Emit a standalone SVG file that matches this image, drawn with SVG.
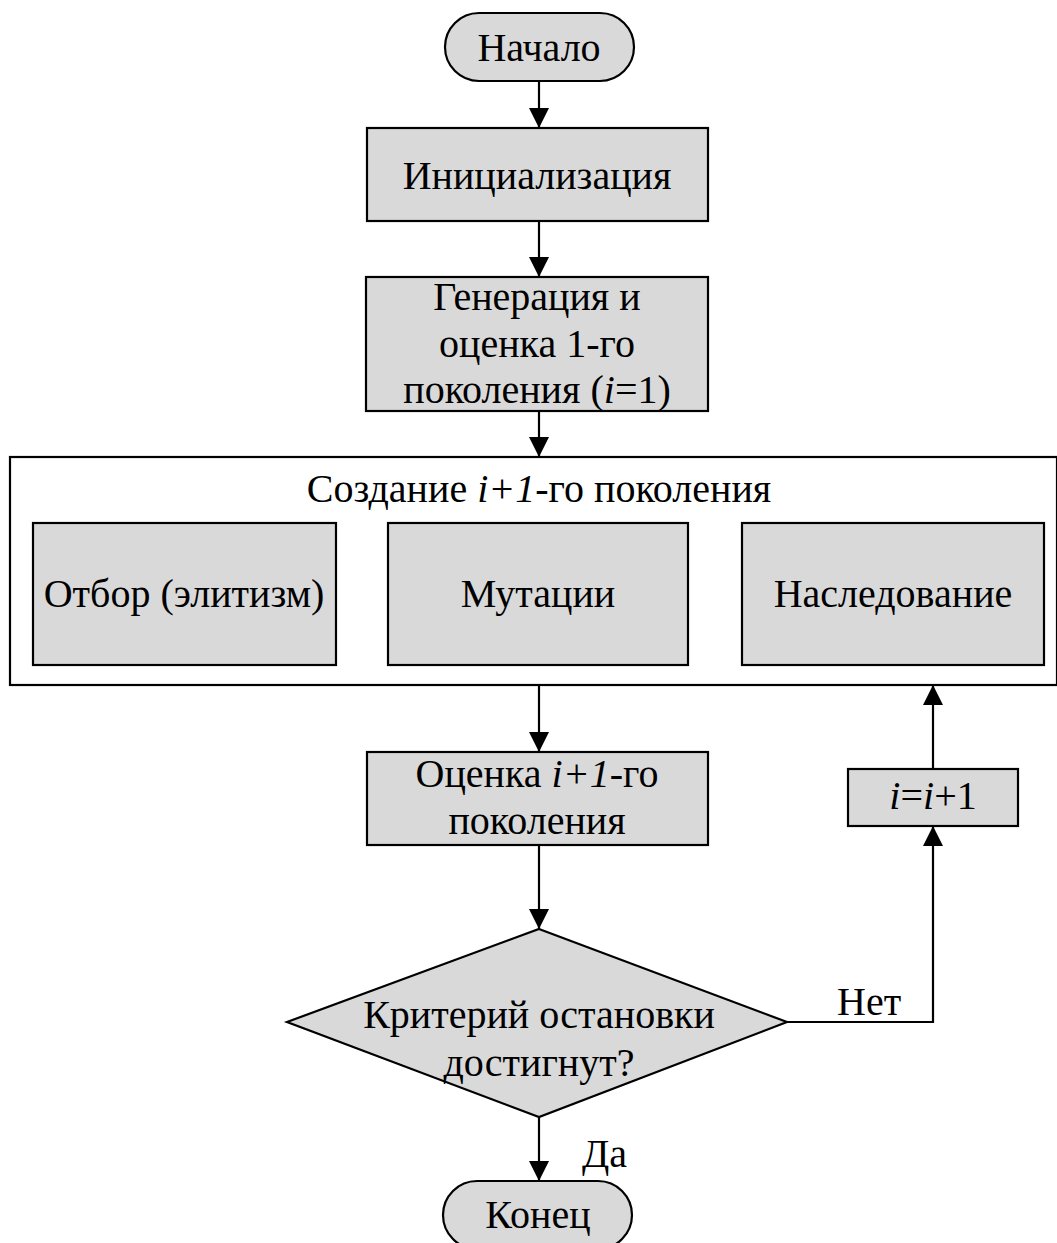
<svg xmlns="http://www.w3.org/2000/svg" width="1057" height="1243" viewBox="0 0 1057 1243">
<style>
.box{fill:#d9d9d9;stroke:#000;stroke-width:2.2}
.frame{fill:#fff;stroke:#000;stroke-width:2.2}
.t{font-family:"Liberation Serif","Times New Roman","DejaVu Serif",serif;font-size:40px;fill:#000;text-anchor:middle}
.lbl{font-family:"Liberation Serif","Times New Roman","DejaVu Serif",serif;font-size:40px;fill:#000}
.c{fill:none;stroke:#000;stroke-width:2.2}
</style>
<defs>
<marker id="ah" markerUnits="userSpaceOnUse" markerWidth="20" markerHeight="20" viewBox="0 0 20 20" refX="20" refY="10" orient="auto">
<path d="M0,0 L20,10 L0,20 Z" fill="#000"/>
</marker>
</defs>
<rect width="1057" height="1243" fill="#fff"/>
<g id="start"><rect class="box" x="445" y="13" width="189" height="68" rx="34"/><text class="t" x="539" y="61">Начало</text></g>
<g id="init"><rect class="box" x="367" y="128" width="341" height="93"/><text class="t" x="537" y="189">Инициализация</text></g>
<g id="gen"><rect class="box" x="366" y="277" width="342" height="134"/>
<text class="t" x="537" y="310">Генерация и</text>
<text class="t" x="537" y="357">оценка 1-го</text>
<text class="t" x="537" y="403">поколения (<tspan font-style="italic">i</tspan>=1)</text></g>
<g id="create"><rect class="frame" x="10" y="457" width="1047" height="228"/>
<text class="t" x="539" y="502">Создание <tspan font-style="italic">i+1</tspan>-го поколения</text></g>
<g id="select"><rect class="box" x="33" y="523" width="303" height="142"/><text class="t" x="184" y="607">Отбор (элитизм)</text></g>
<g id="mut"><rect class="box" x="388" y="523" width="300" height="142"/><text class="t" x="538" y="607">Мутации</text></g>
<g id="inh"><rect class="box" x="742" y="523" width="302" height="142"/><text class="t" x="893" y="607">Наследование</text></g>
<g id="eval"><rect class="box" x="367" y="752" width="341" height="93"/>
<text class="t" x="537" y="787">Оценка <tspan font-style="italic">i+1</tspan>-го</text>
<text class="t" x="537" y="834">поколения</text></g>
<g id="inc"><rect class="box" x="848" y="769" width="170" height="57"/><text class="t" x="933" y="809"><tspan font-style="italic">i</tspan>=<tspan font-style="italic">i</tspan>+1</text></g>
<g id="cond"><polygon class="box" points="539,929 787,1022 539,1117 287,1022"/>
<text class="t" x="539" y="1028">Критерий остановки</text>
<text class="t" x="539" y="1076">достигнут?</text></g>
<g id="end"><rect class="box" x="443" y="1181" width="189" height="68" rx="34"/><text class="t" x="538" y="1228">Конец</text></g>
<g id="connectors">
<line class="c" x1="539" y1="81" x2="539" y2="128" marker-end="url(#ah)"/>
<line class="c" x1="539" y1="221" x2="539" y2="277" marker-end="url(#ah)"/>
<line class="c" x1="539" y1="411" x2="539" y2="457" marker-end="url(#ah)"/>
<line class="c" x1="539" y1="685" x2="539" y2="752" marker-end="url(#ah)"/>
<line class="c" x1="539" y1="845" x2="539" y2="929" marker-end="url(#ah)"/>
<line class="c" x1="539" y1="1117" x2="539" y2="1181" marker-end="url(#ah)"/>
<polyline class="c" points="787,1022 933,1022 933,826" marker-end="url(#ah)"/>
<line class="c" x1="933" y1="769" x2="933" y2="685" marker-end="url(#ah)"/>
<text class="lbl" x="837" y="1015">Нет</text>
<text class="lbl" x="582" y="1167">Да</text>
</g>
</svg>
